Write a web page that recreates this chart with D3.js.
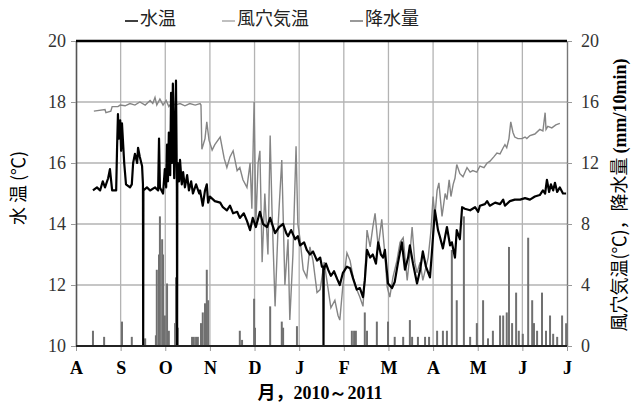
<!DOCTYPE html>
<html>
<head>
<meta charset="utf-8">
<script src="https://cdn.jsdelivr.net/npm/d3@7"></script>
<style>
body { margin: 0; background: #fff; }
.axis text { font-family: "Liberation Serif", "Times New Roman", serif; font-size: 18px; fill: #333; }
.axis path, .axis line { stroke: #999; }
.cjk { font-family: "Noto Sans CJK JP", "Noto Sans", sans-serif; }
</style>
</head>
<body>
<div class="content"></div>
<script>
var size = {width: 636, height: 404};
var padding = {left: 76, right: 69, top: 41, bottom: 58};

// x is position in months since 1 Aug 2010 (0 = A, 11 = J)
var monthLabels = ["A","S","O","N","D","J","F","M","A","M","J","J"];
var leftTicks = [10, 12, 14, 16, 18, 20];
var rightTicks = [0, 4, 8, 12, 16, 20];

// 水温 (left axis, ℃)
var waterTemp = [
  [0.38,15.1],[0.47,15.2],[0.54,15.1],[0.60,15.4],[0.65,15.2],[0.72,15.5],[0.76,15.8],[0.81,15.1],
  [0.90,15.1],[0.92,16.5],[0.94,17.6],[0.96,16.8],[0.99,17.4],[1.01,16.4],[1.03,17.3],[1.08,16.0],
  [1.12,15.3],[1.21,15.2],[1.25,15.3],[1.28,16.0],[1.32,16.3],[1.37,16.0],[1.39,16.5],[1.43,16.2],
  [1.48,15.9],[1.50,15.3],[1.505,10.0],[1.51,15.1],[1.59,15.2],[1.66,15.1],[1.77,15.2],[1.84,15.1],
  [1.86,16.8],[1.88,15.2],[1.95,15.0],[1.99,15.8],[2.02,15.2],[2.04,16.6],[2.06,15.4],[2.08,17.0],
  [2.11,15.6],[2.13,18.3],[2.15,16.0],[2.17,18.6],[2.20,15.5],[2.22,17.0],[2.24,18.7],[2.26,15.2],
  [2.265,10.0],[2.27,15.6],[2.28,16.0],[2.31,15.4],[2.33,16.1],[2.37,15.3],[2.40,15.7],[2.44,15.2],
  [2.49,15.6],[2.53,15.1],[2.58,15.4],[2.62,15.0],[2.69,15.3],[2.76,15.0],[2.78,15.1],[2.84,14.6],
  [2.89,15.1],[2.93,15.3],[2.96,14.7],[3.00,14.9],[3.11,14.75],[3.23,14.7],[3.29,14.55],[3.38,14.45],
  [3.45,14.6],[3.52,14.35],[3.61,14.4],[3.67,14.2],[3.76,14.35],[3.83,14.1],[3.90,13.8],[3.96,14.2],
  [4.03,13.9],[4.12,14.4],[4.19,14.0],[4.28,13.9],[4.35,14.2],[4.46,13.7],[4.55,13.9],[4.64,14.0],
  [4.71,13.7],[4.75,13.6],[4.82,13.8],[4.91,13.5],[4.97,13.6],[5.02,13.3],[5.11,13.4],[5.17,13.15],
  [5.24,13.0],[5.31,13.1],[5.40,12.8],[5.47,12.9],[5.51,12.6],[5.54,12.6],[5.545,10.0],[5.55,12.5],
  [5.60,12.7],[5.65,12.5],[5.71,12.3],[5.78,12.45],[5.85,12.2],[5.91,12.0],[5.98,12.4],[6.07,12.6],
  [6.14,12.55],[6.21,12.2],[6.29,11.85],[6.36,11.9],[6.43,11.6],[6.47,12.15],[6.52,13.15],[6.59,12.9],
  [6.65,13.0],[6.72,12.7],[6.77,13.4],[6.83,13.0],[6.88,12.9],[6.92,13.15],[6.99,12.05],[7.08,11.9],
  [7.14,12.1],[7.21,12.7],[7.30,13.4],[7.37,12.5],[7.44,12.9],[7.48,13.3],[7.55,12.7],[7.64,12.05],
  [7.71,12.5],[7.77,13.1],[7.84,12.6],[7.93,12.25],[7.97,13.0],[8.04,14.45],[8.11,13.8],[8.15,13.6],
  [8.22,13.2],[8.31,13.9],[8.38,13.3],[8.42,13.4],[8.49,12.9],[8.53,13.8],[8.60,13.5],[8.65,14.55],
  [8.71,14.5],[8.83,14.45],[8.94,14.55],[9.01,14.4],[9.05,14.6],[9.16,14.65],[9.21,14.75],[9.27,14.6],
  [9.39,14.7],[9.50,14.65],[9.57,14.8],[9.61,14.6],[9.72,14.75],[9.83,14.8],[9.95,14.8],[10.06,14.85],
  [10.17,14.8],[10.28,14.9],[10.39,14.95],[10.46,15.1],[10.51,15.0],[10.55,15.45],[10.60,15.05],
  [10.64,15.3],[10.69,15.1],[10.73,15.35],[10.78,15.05],[10.84,15.2],[10.91,15.0],[10.98,15.0]
];

// 風穴気温 (right axis, ℃)
var caveTemp = [
  [0.40,15.4],[0.65,15.5],[0.67,15.3],[0.78,15.4],[0.81,15.7],[0.94,15.7],[0.99,15.8],[1.10,15.75],
  [1.21,15.9],[1.32,15.8],[1.43,16.0],[1.55,15.8],[1.66,16.1],[1.72,15.9],[1.77,16.3],[1.81,15.8],
  [1.88,16.2],[1.95,15.8],[2.02,16.1],[2.08,15.7],[2.15,16.0],[2.22,15.8],[2.33,15.9],[2.44,15.75],
  [2.55,15.9],[2.67,15.8],[2.78,15.9],[2.80,15.8],[2.82,12.9],[2.89,13.6],[2.93,14.7],[2.98,13.5],
  [3.05,12.85],[3.11,13.2],[3.23,13.7],[3.32,12.3],[3.38,11.7],[3.45,12.4],[3.52,12.8],[3.61,11.5],
  [3.67,11.7],[3.74,10.9],[3.83,10.4],[3.90,12.0],[3.94,9.0],[3.99,16.0],[4.03,8.0],[4.08,12.0],
  [4.12,12.8],[4.17,5.5],[4.23,10.0],[4.30,6.0],[4.35,13.8],[4.39,9.0],[4.46,2.6],[4.53,8.0],
  [4.61,12.2],[4.68,4.0],[4.75,7.0],[4.79,1.7],[4.86,6.0],[4.93,13.1],[4.97,8.0],[5.02,7.0],
  [5.09,5.0],[5.17,4.5],[5.24,6.5],[5.31,5.6],[5.40,3.5],[5.47,3.7],[5.56,5.5],[5.62,4.3],
  [5.71,2.5],[5.80,3.0],[5.87,2.0],[5.91,1.7],[5.98,4.0],[6.07,6.1],[6.14,5.6],[6.21,4.5],
  [6.29,3.7],[6.36,3.2],[6.43,2.6],[6.47,4.5],[6.52,7.6],[6.59,6.5],[6.65,7.8],[6.70,8.7],
  [6.77,6.5],[6.85,8.3],[6.92,6.0],[6.97,3.9],[7.03,3.2],[7.10,4.5],[7.19,5.6],[7.26,6.8],
  [7.33,7.1],[7.42,4.3],[7.48,6.0],[7.53,7.8],[7.59,5.5],[7.64,4.8],[7.71,5.5],[7.77,4.3],
  [7.89,5.8],[7.95,7.5],[8.00,9.8],[8.04,8.5],[8.09,10.2],[8.13,10.7],[8.20,8.5],[8.27,10.0],
  [8.31,9.6],[8.36,10.9],[8.40,9.8],[8.45,10.6],[8.49,11.0],[8.53,11.9],[8.60,11.3],[8.67,11.1],
  [8.76,11.7],[8.83,11.4],[8.89,11.5],[8.98,11.4],[9.05,11.8],[9.14,11.7],[9.21,12.0],[9.27,12.1],
  [9.36,12.4],[9.43,12.65],[9.50,12.6],[9.57,13.0],[9.61,13.2],[9.65,13.0],[9.70,13.6],[9.74,14.7],
  [9.79,14.0],[9.83,13.7],[9.90,13.6],[9.99,13.6],[10.06,13.7],[10.10,13.6],[10.17,13.8],[10.28,13.9],
  [10.39,14.2],[10.46,14.1],[10.51,15.3],[10.53,14.2],[10.57,14.4],[10.66,14.3],[10.75,14.5],[10.84,14.6]
];

// 降水量 (right axis, mm/10min)
var rainfall = [
  [0.38,1.0],[0.63,0.6],[1.03,1.6],[1.25,0.6],[1.55,0.5],[1.79,0.7],[1.81,5.0],[1.86,6.0],
  [1.88,8.5],[1.93,7.0],[1.95,6.0],[1.99,2.0],[2.04,4.1],[2.08,1.0],[2.22,1.5],[2.24,4.5],
  [2.28,1.2],[2.60,0.6],[2.64,0.6],[2.69,0.6],[2.73,0.6],[2.80,1.5],[2.84,2.2],[2.89,2.8],
  [2.93,5.0],[2.96,3.0],[3.67,1.0],[3.72,0.4],[3.99,3.1],[4.01,1.2],[4.35,2.6],[4.61,1.6],
  [4.64,1.2],[4.95,1.3],[6.18,1.0],[6.23,1.0],[6.27,1.0],[6.47,2.2],[6.52,1.0],[6.74,1.6],
  [6.99,1.6],[7.14,0.6],[7.33,0.6],[7.48,1.7],[7.53,0.6],[7.66,0.6],[7.82,0.6],[7.91,0.6],
  [8.09,1.0],[8.22,1.0],[8.31,1.0],[8.42,6.3],[8.53,3.0],[8.69,8.5],[8.83,0.6],[8.98,1.5],
  [9.12,3.0],[9.23,0.5],[9.34,1.0],[9.50,2.0],[9.57,2.0],[9.65,2.2],[9.70,6.5],[9.77,1.5],
  [9.86,3.5],[9.92,1.0],[10.01,0.8],[10.13,7.1],[10.22,3.0],[10.26,1.5],[10.33,1.0],[10.44,3.5],
  [10.53,1.0],[10.62,2.0],[10.69,0.8],[10.78,0.6],[10.89,2.0],[10.98,1.5]
];

var legendItems = [
  {name: "水温", color: "#000", x: 125},
  {name: "風穴気温", color: "#aaa", x: 222},
  {name: "降水量", color: "#777", x: 350}
];

var chart = d3.select('.content')
  .append('svg')
  .attr('width', size.width)
  .attr('height', size.height);

chart.append('defs').append('clipPath')
  .attr('id', 'clipper')
  .append('rect')
  .attr('x', padding.left)
  .attr('y', padding.top)
  .attr('width', size.width - padding.left - padding.right)
  .attr('height', size.height - padding.top - padding.bottom);

var xScale = d3.scaleLinear()
  .domain([0, monthLabels.length - 1])
  .range([padding.left, size.width - padding.right]);
var yLeft = d3.scaleLinear()
  .domain([10, 20])
  .range([size.height - padding.bottom, padding.top]);
var yRight = d3.scaleLinear()
  .domain([0, 20])
  .range([size.height - padding.bottom, padding.top]);

// grid lines
var grid = chart.append('g').attr('stroke', '#b3b3b3').attr('stroke-width', 1.3);
grid.selectAll('line.v').data(d3.range(1, monthLabels.length - 1)).enter().append('line')
  .attr('x1', function(d) { return xScale(d); })
  .attr('x2', function(d) { return xScale(d); })
  .attr('y1', padding.top)
  .attr('y2', size.height - padding.bottom);
grid.selectAll('line.h').data(leftTicks.slice(1, -1)).enter().append('line')
  .attr('y1', function(d) { return yLeft(d); })
  .attr('y2', function(d) { return yLeft(d); })
  .attr('x1', padding.left)
  .attr('x2', size.width - padding.right);

// axes
var xAxis = d3.axisBottom(xScale).tickValues(d3.range(monthLabels.length))
  .tickFormat(function(d) { return monthLabels[d]; }).tickSize(5).tickSizeOuter(0).tickPadding(10);
var xAxisObj = chart.append('g').attr('class', 'axis')
  .attr('transform', 'translate(0,' + (size.height - padding.bottom) + ')')
  .call(xAxis);
xAxisObj.selectAll('text').style('font-weight', 'bold').style('fill', '#000');

var yAxis = d3.axisLeft(yLeft).tickValues(leftTicks).tickSize(5).tickSizeOuter(0).tickPadding(5);
var yAxisObj = chart.append('g').attr('class', 'axis')
  .attr('transform', 'translate(' + padding.left + ',0)')
  .call(yAxis);
yAxisObj.select('.domain').style('stroke', '#555').style('stroke-width', 1.6);

var y2Axis = d3.axisRight(yRight).tickValues(rightTicks).tickSize(5).tickSizeOuter(0).tickPadding(9);
var y2AxisObj = chart.append('g').attr('class', 'axis')
  .attr('transform', 'translate(' + (size.width - padding.right) + ',0)')
  .call(y2Axis);
y2AxisObj.select('.domain').style('stroke', '#777').style('stroke-width', 1.4);

var plot = chart.append('g').attr('clip-path', 'url(#clipper)');

// rainfall bars
plot.selectAll('line.rain').data(rainfall).enter().append('line')
  .attr('class', 'rain')
  .attr('x1', function(d) { return xScale(d[0]); })
  .attr('x2', function(d) { return xScale(d[0]); })
  .attr('y1', yRight(0))
  .attr('y2', function(d) { return yRight(d[1]); })
  .attr('stroke', '#707070')
  .attr('stroke-width', 2);

// cave air temperature
plot.append('path').datum(caveTemp)
  .attr('fill', 'none')
  .attr('stroke', '#858585')
  .attr('stroke-width', 1.4)
  .attr('d', d3.line().x(function(d) { return xScale(d[0]); }).y(function(d) { return yRight(d[1]); }));

// water temperature
plot.append('path').datum(waterTemp)
  .attr('fill', 'none')
  .attr('stroke', '#000')
  .attr('stroke-width', 2.2)
  .attr('stroke-linejoin', 'round')
  .attr('d', d3.line().x(function(d) { return xScale(d[0]); }).y(function(d) { return yLeft(d[1]); }));

// frame top and bottom
chart.append('line')
  .attr('x1', padding.left).attr('x2', size.width - padding.right)
  .attr('y1', padding.top).attr('y2', padding.top)
  .attr('stroke', '#000').attr('stroke-width', 2.5);
chart.append('line')
  .attr('x1', padding.left).attr('x2', size.width - padding.right)
  .attr('y1', size.height - padding.bottom).attr('y2', size.height - padding.bottom)
  .attr('stroke', '#222').attr('stroke-width', 2);

// titles
chart.append('text').attr('class', 'cjk')
  .attr('text-anchor', 'middle')
  .attr('transform', 'translate(25,188) rotate(-90)')
  .style('font-size', '18px')
  .text('水 温 (℃)');

var rt = chart.append('text').attr('class', 'cjk')
  .attr('text-anchor', 'middle')
  .attr('transform', 'translate(626,195) rotate(-90)')
  .style('font-size', '18px');
rt.append('tspan').text('風穴気温(℃)，降水量 ');
rt.append('tspan')
  .style('font-family', '"Liberation Serif", serif')
  .style('font-weight', 'bold')
  .text('(mm/10min)');

var xt = chart.append('text')
  .attr('text-anchor', 'middle')
  .attr('x', 320).attr('y', 399)
  .style('font-size', '18px')
  .style('font-weight', 'bold');
xt.append('tspan').attr('class', 'cjk').text('月，');
xt.append('tspan').style('font-family', '"Liberation Serif", serif').text('2010～2011');

// legend
var legend = chart.selectAll('g.legend').data(legendItems).enter().append('g')
  .attr('transform', function(d) { return 'translate(' + d.x + ',0)'; });
legend.append('line')
  .attr('x1', 0).attr('x2', 13).attr('y1', 21).attr('y2', 21)
  .attr('stroke', function(d) { return d.color; })
  .attr('stroke-width', 1.5);
legend.append('text').attr('class', 'cjk')
  .attr('x', 15).attr('y', 25)
  .style('font-size', '18px')
  .style('fill', '#222')
  .text(function(d) { return d.name; });
</script>
</body>
</html>
